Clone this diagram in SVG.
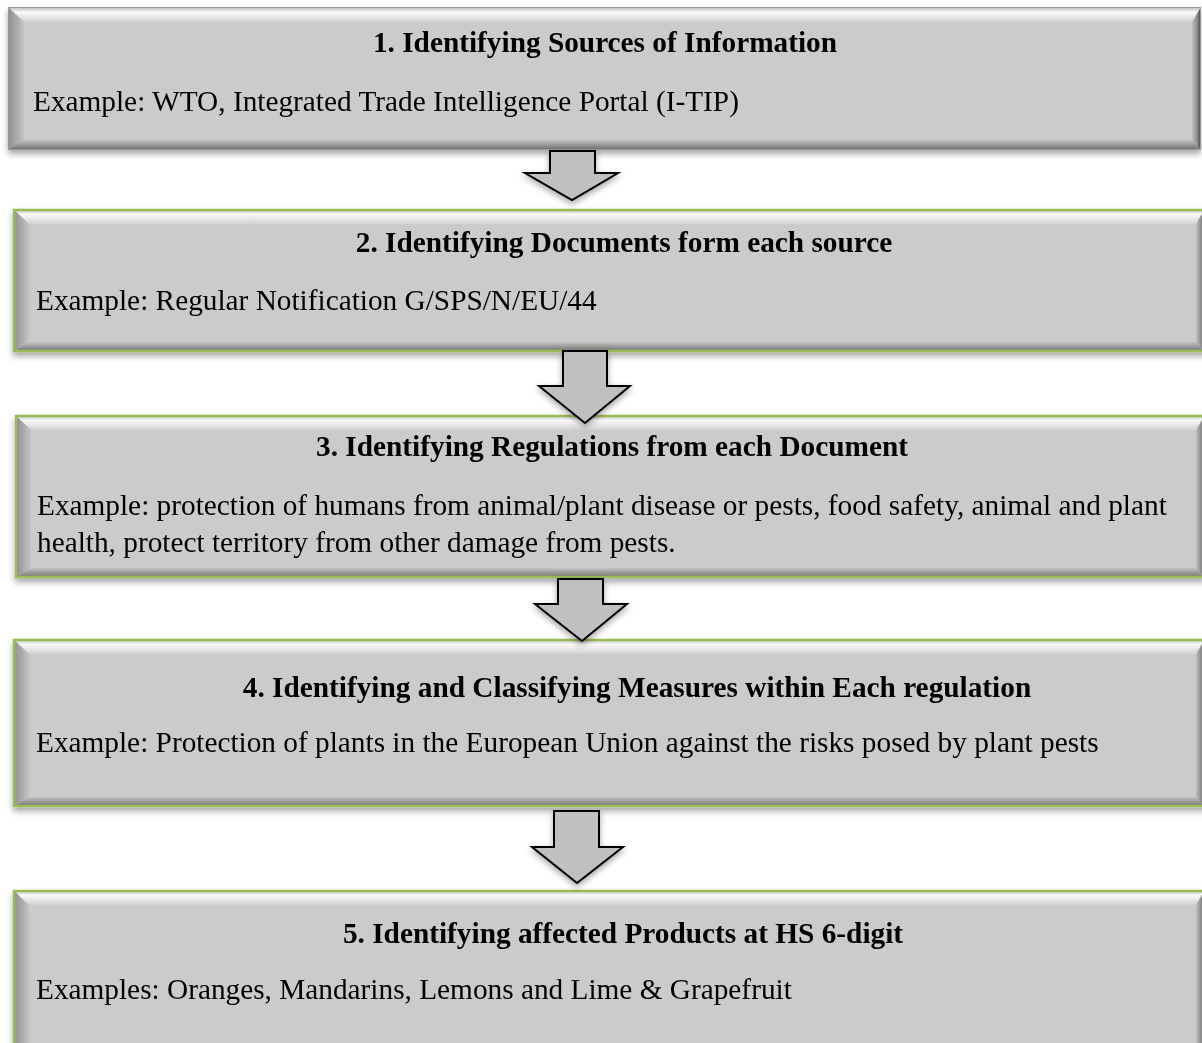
<svg xmlns="http://www.w3.org/2000/svg" width="1202" height="1043" viewBox="0 0 1202 1043">
<defs>
<linearGradient id="gTop" x1="0" y1="0" x2="0" y2="1">
<stop offset="0" stop-color="#b8b8b8"/><stop offset="0.35" stop-color="#fafafa"/><stop offset="1" stop-color="#d2d2d2"/>
</linearGradient>
<linearGradient id="gLeft" x1="0" y1="0" x2="1" y2="0">
<stop offset="0" stop-color="#8c8c8c"/><stop offset="1" stop-color="#c4c4c4"/>
</linearGradient>
<linearGradient id="gBottom" x1="0" y1="0" x2="0" y2="1">
<stop offset="0" stop-color="#c2c2c2"/><stop offset="0.6" stop-color="#8e8e8e"/><stop offset="1" stop-color="#6a6a6a"/>
</linearGradient>
<linearGradient id="gRight" x1="0" y1="0" x2="1" y2="0">
<stop offset="0" stop-color="#c0c0c0"/><stop offset="0.6" stop-color="#8a8a8a"/><stop offset="1" stop-color="#3a3a3a"/>
</linearGradient>
<filter id="shadow" x="-5%" y="-10%" width="110%" height="130%">
<feDropShadow dx="0" dy="4" stdDeviation="3" flood-color="#000" flood-opacity="0.35"/>
</filter>
<filter id="ashadow" x="-20%" y="-20%" width="140%" height="150%">
<feDropShadow dx="0" dy="3" stdDeviation="3" flood-color="#000" flood-opacity="0.35"/>
</filter>
</defs>
<style>
.base{fill:#cbcbcb}
.top{fill:url(#gTop)}
.left{fill:url(#gLeft)}
.bottom{fill:url(#gBottom)}
.right{fill:url(#gRight)}
.green{fill:none;stroke:#9bbb59;stroke-width:2.5}
.gray{fill:none;stroke:#9a9a9a;stroke-width:1}
.h{font-family:"Liberation Serif","Times New Roman",serif;font-size:29.3px;font-weight:bold;fill:#000;text-anchor:middle}
.b{font-family:"Liberation Serif","Times New Roman",serif;font-size:29.3px;fill:#000}
.arrow{fill:#c0c0c0;stroke:#000;stroke-width:2;stroke-linejoin:miter;filter:url(#ashadow)}
</style>
<rect width="1202" height="1043" fill="#ffffff"/>

<g id="node1" filter="url(#shadow)">
<rect class="base" x="8" y="7" width="1193" height="143"/>
<polygon class="top" points="8,7 1201,7 1192,22 24,22"/>
<polygon class="left" points="8,7 24,22 24,140 8,150"/>
<polygon class="bottom" points="8,150 24,140 1192,140 1201,150"/>
<polygon class="right" points="1201,7 1201,150 1192,140 1192,22"/>
<rect class="gray" x="8.5" y="7.5" width="1192" height="142"/>
<text class="h" x="605" y="52">1. Identifying Sources of Information</text>
<text class="b" x="33" y="111">Example: WTO, Integrated Trade Intelligence Portal (I-TIP)</text>
</g>

<g id="node2" filter="url(#shadow)">
<rect class="base" x="13" y="209" width="1192" height="143"/>
<polygon class="top" points="13,209 1205,209 1196,224 29,224"/>
<polygon class="left" points="13,209 29,224 29,342 13,352"/>
<polygon class="bottom" points="13,352 29,342 1196,342 1205,352"/>
<polygon class="right" points="1205,209 1205,352 1196,342 1196,224"/>
<rect class="green" x="14" y="210" width="1192" height="141"/>
<text class="h" x="624" y="252">2. Identifying Documents form each source</text>
<text class="b" x="36" y="310">Example: Regular Notification G/SPS/N/EU/44</text>
</g>

<g id="node3" filter="url(#shadow)">
<rect class="base" x="15" y="415" width="1190" height="163"/>
<polygon class="top" points="15,415 1205,415 1196,430 31,430"/>
<polygon class="left" points="15,415 31,430 31,568 15,578"/>
<polygon class="bottom" points="15,578 31,568 1196,568 1205,578"/>
<polygon class="right" points="1205,415 1205,578 1196,568 1196,430"/>
<rect class="green" x="16" y="416" width="1190" height="161"/>
<text class="h" x="612" y="456">3. Identifying Regulations from each Document</text>
<text class="b" x="37" y="515">Example: protection of humans from animal/plant disease or pests, food safety, animal and plant</text>
<text class="b" x="37" y="552">health, protect territory from other damage from pests.</text>
</g>

<g id="node4" filter="url(#shadow)">
<rect class="base" x="13" y="639" width="1192" height="168"/>
<polygon class="top" points="13,639 1205,639 1196,654 29,654"/>
<polygon class="left" points="13,639 29,654 29,797 13,807"/>
<polygon class="bottom" points="13,807 29,797 1196,797 1205,807"/>
<polygon class="right" points="1205,639 1205,807 1196,797 1196,654"/>
<rect class="green" x="14" y="640" width="1192" height="166"/>
<text class="h" x="637" y="697">4. Identifying and Classifying Measures within Each regulation</text>
<text class="b" x="36" y="752">Example: Protection of plants in the European Union against the risks posed by plant pests</text>
</g>

<g id="node5" filter="url(#shadow)">
<rect class="base" x="13" y="890" width="1192" height="165"/>
<polygon class="top" points="13,890 1205,890 1196,905 29,905"/>
<polygon class="left" points="13,890 29,905 29,1045 13,1055"/>
<polygon class="right" points="1205,890 1205,1055 1196,1045 1196,905"/>
<rect class="green" x="14" y="891" width="1192" height="170"/>
<text class="h" x="623" y="943">5. Identifying affected Products at HS 6-digit</text>
<text class="b" x="36" y="999">Examples: Oranges, Mandarins, Lemons and Lime &amp; Grapefruit</text>
</g>

<g id="connectors">
<polygon class="arrow" points="550,151 595,151 595,173 618,173 572,200 525,173 550,173 550,151"/>
<polygon class="arrow" points="563,351 607,351 607,386 630,386 585,423 539,386 563,386 563,351"/>
<polygon class="arrow" points="558,579 603,579 603,604 627,604 582,641 535,604 558,604 558,579"/>
<polygon class="arrow" points="554,811 599,811 599,847 623,847 577,883 532,847 554,847 554,811"/>
</g>
</svg>
